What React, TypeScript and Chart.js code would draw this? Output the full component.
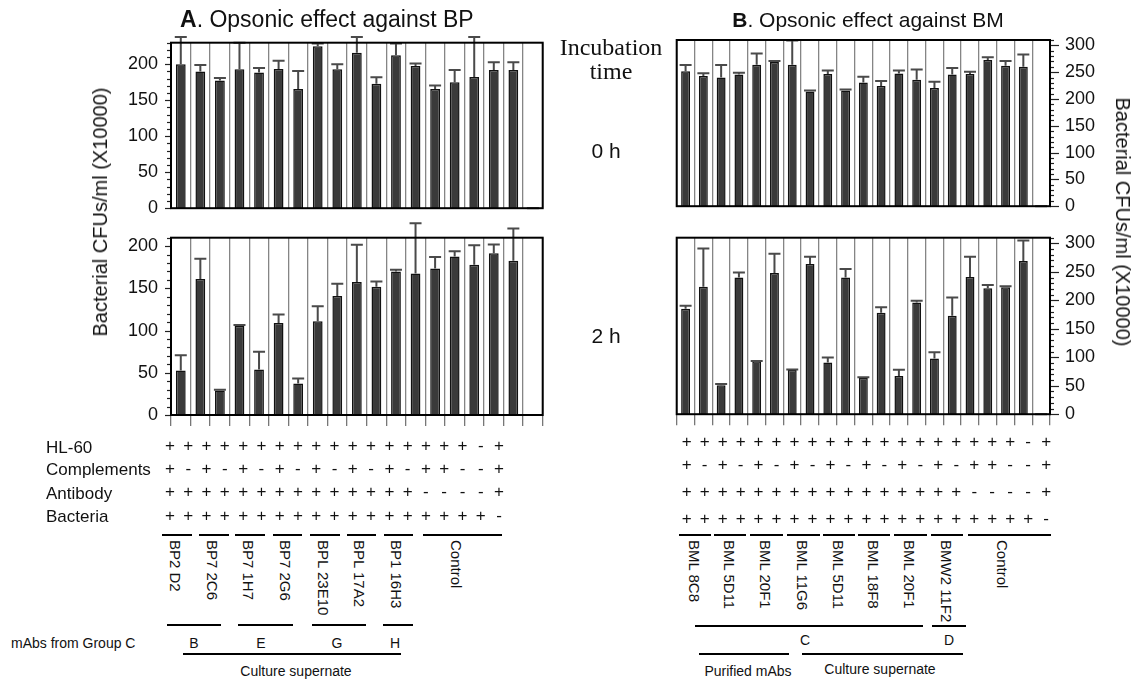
import React, { useEffect, useRef } from 'react';
import { Chart, registerables } from 'chart.js';

Chart.register(...registerables);

const SANS = '"Liberation Sans", Arial, sans-serif';
const SERIF = '"Liberation Serif", "Times New Roman", serif';

// ---------- Data ----------
const catsA = [
  'BP2 D2 C+', 'BP2 D2 C-', 'BP7 2C6 C+', 'BP7 2C6 C-', 'BP7 1H7 C+', 'BP7 1H7 C-',
  'BP7 2G6 C+', 'BP7 2G6 C-', 'BPL 23E10 C+', 'BPL 23E10 C-', 'BPL 17A2 C+', 'BPL 17A2 C-',
  'BP1 16H3 C+', 'BP1 16H3 C-', 'Control 1', 'Control 2', 'Control 3', 'Control 4', 'Control 5',
];
const a0h = [200, 190, 177.5, 193, 188.5, 193.5, 165.5, 225, 193, 216, 173, 212.5, 197.5, 165.5, 175, 182.5, 192, 192, 0];
const a0hErr = [238, 199, 181, 230, 195, 205, 190.5, 229, 200, 238, 182, 229, 201, 170.5, 192, 238, 203, 203, 0];
const a2h = [52.8, 161, 29, 105.5, 54, 109, 37.4, 111, 141, 157.5, 152, 170, 167.7, 173.6, 187.8, 178, 191.7, 182.7, 0];
const a2hErr = [70.9, 185, 30, 106.7, 74.8, 119, 43.3, 128.7, 155.5, 201.6, 158, 172, 227, 187, 194, 201, 202, 221, 0];

const catsB = [
  'BML 8C8 C+', 'BML 8C8 C-', 'BML 5D11 C+', 'BML 5D11 C-', 'BML 20F1 C+', 'BML 20F1 C-',
  'BML 11G6 C+', 'BML 11G6 C-', 'BML 5D11s C+', 'BML 5D11s C-', 'BML 18F8 C+', 'BML 18F8 C-',
  'BML 20F1s C+', 'BML 20F1s C-', 'BMW2 11F2 C+', 'BMW2 11F2 C-',
  'Control 1', 'Control 2', 'Control 3', 'Control 4', 'Control 5',
];
const b0h = [251.7, 243, 240, 245.5, 264, 269, 264, 214, 246.6, 216, 230.7, 224.4, 247.7, 235.8, 220.5, 245.5, 246.6, 272.7, 262, 260, 0];
const b0hErr = [263.6, 248, 263.6, 249, 285, 271, 309, 216, 253, 217.6, 241.5, 233.5, 253, 255, 232, 258, 251, 278, 271, 283, 0];
const b2h = [185, 224, 51, 240, 93, 248, 78, 264, 91, 240, 64, 178, 67, 196, 98, 173, 241, 221, 223, 269, 0];
const b2hErr = [190.6, 291, 53, 249, 93.6, 282, 78.4, 276.6, 99.4, 255, 65, 188, 78, 199.4, 109, 205, 276.6, 227, 224.6, 305, 0];

const rowLabels = ['HL-60', 'Complements', 'Antibody', 'Bacteria'];
const hl60A = '+ + + + + + + + + + + + + + + + + - +'.split(' ');
const compA = '+ - + - + - + - + - + - + - + + - - +'.split(' ');
const abA = '+ + + + + + + + + + + + + + - - - - +'.split(' ');
const bactA = '+ + + + + + + + + + + + + + + + + + -'.split(' ');
const hl60B = '+ + + + + + + + + + + + + + + + + + + - +'.split(' ');
const compB = '+ - + - + - + - + - + - + - + - + + - - +'.split(' ');
const abB = '+ + + + + + + + + + + + + + + + - - - - +'.split(' ');
const bactB = '+ + + + + + + + + + + + + + + + + + + + -'.split(' ');

const groupsA = ['BP2 D2', 'BP7 2C6', 'BP7 1H7', 'BP7 2G6', 'BPL 23E10', 'BPL 17A2', 'BP1 16H3', 'Control'];
const groupsB = ['BML 8C8', 'BML 5D11', 'BML 20F1', 'BML 11G6', 'BML 5D11', 'BML 18F8', 'BML 20F1', 'BMW2 11F2', 'Control'];

// ---------- Layout ----------
type Box = { left: number; top: number; width: number; height: number };
type Area = { l: number; t: number; r: number; b: number };

const errorBars = (errs: number[]) => ({
  id: 'errorBars',
  afterDatasetsDraw(chart: any) {
    const ctx = chart.ctx;
    const meta = chart.getDatasetMeta(0);
    const ys = chart.scales.y;
    ctx.save();
    ctx.strokeStyle = '#4a4a4a';
    ctx.lineWidth = 2;
    meta.data.forEach((bar: any, i: number) => {
      const x = bar.x;
      const yb = bar.y;
      const yt = ys.getPixelForValue(errs[i]);
      ctx.beginPath();
      ctx.moveTo(x, yb);
      ctx.lineTo(x, yt);
      ctx.moveTo(x - 6, yt);
      ctx.lineTo(x + 6, yt);
      ctx.stroke();
    });
    ctx.restore();
  },
});

const frameAndTicks = (side: 'left' | 'right', majorLen: number) => ({
  id: 'frameAndTicks',
  afterDraw(chart: any) {
    const ctx = chart.ctx;
    const a = chart.chartArea;
    const ys = chart.scales.y;
    ctx.save();
    ctx.strokeStyle = '#222';
    ctx.lineWidth = 1.2;
    ys.ticks.forEach((t: any) => {
      const y = Math.round(ys.getPixelForValue(t.value)) + 0.5;
      const len = t.value % 50 === 0 ? majorLen : 4;
      ctx.beginPath();
      if (side === 'left') {
        ctx.moveTo(a.left, y);
        ctx.lineTo(a.left - len, y);
      } else {
        ctx.moveTo(a.right, y);
        ctx.lineTo(a.right + len, y);
      }
      ctx.stroke();
    });
    ctx.strokeStyle = '#000';
    ctx.lineWidth = 2;
    ctx.strokeRect(a.left, a.top, a.right - a.left, a.bottom - a.top);
    ctx.restore();
  },
});

function BarPanel(p: {
  box: Box; area: Area; side: 'left' | 'right'; labels: string[]; values: number[];
  errors: number[]; yMax: number; bottomTicks: boolean; majorLen: number; labelPad: number;
}) {
  const ref = useRef<HTMLCanvasElement>(null);
  useEffect(() => {
    const c = ref.current!;
    const { box, area } = p;
    const xH = p.bottomTicks ? 12 : 1;
    const padTop = area.t - box.top;
    const padBottom = box.top + box.height - area.b - xH;
    let padLeft = 0, padRight = 0, yW = 0;
    if (p.side === 'left') {
      yW = area.l - box.left;
      padRight = box.left + box.width - area.r;
    } else {
      yW = box.left + box.width - area.r;
      padLeft = area.l - box.left;
    }
    const chart = new Chart(c, {
      type: 'bar',
      data: {
        labels: p.labels,
        datasets: [{
          data: p.values,
          backgroundColor: '#3a3a3a',
          borderColor: '#111',
          borderWidth: 1.5,
          barPercentage: 0.5,
          categoryPercentage: 1,
        }],
      },
      options: {
        animation: false,
        responsive: false,
        maintainAspectRatio: false,
        layout: { padding: { top: padTop, bottom: padBottom, left: padLeft, right: padRight } },
        plugins: { legend: { display: false }, tooltip: { enabled: false }, title: { display: false } },
        scales: {
          x: {
            offset: true,
            grid: {
              offset: true, color: '#858585', lineWidth: 1.3,
              drawTicks: p.bottomTicks, tickLength: 11, tickColor: '#777',
            },
            border: { display: false },
            ticks: { display: false },
            afterFit: (s: any) => { s.height = xH; },
          },
          y: {
            position: p.side,
            min: 0,
            max: p.yMax,
            grid: { display: false, drawTicks: false },
            border: { display: false },
            ticks: {
              stepSize: 10,
              autoSkip: false,
              padding: p.labelPad,
              color: '#111',
              font: { family: SANS, size: 18 },
              callback: (v: any) => (Number(v) % 50 === 0 ? String(v) : ''),
            },
            afterFit: (s: any) => { s.width = yW; },
          },
        },
      },
      plugins: [errorBars(p.errors), frameAndTicks(p.side, p.majorLen)],
    } as any);
    return () => chart.destroy();
  }, []);
  return (
    <canvas
      ref={ref}
      width={p.box.width}
      height={p.box.height}
      style={{ position: 'absolute', left: p.box.left, top: p.box.top, width: p.box.width, height: p.box.height }}
    />
  );
}

function T(props: {
  x: number; y: number; size?: number; align?: 'left' | 'center'; family?: string;
  rot?: number; vertical?: boolean; children: React.ReactNode; weight?: number;
}) {
  const { x, y, size = 17, align = 'center', family = SANS, rot = 0, vertical = false } = props;
  let transform = align === 'center' ? 'translate(-50%, -50%)' : 'translate(0, -50%)';
  if (rot) transform += ` rotate(${rot}deg)`;
  if (vertical) transform = 'translateX(-50%)';
  return (
    <div
      style={{
        position: 'absolute', left: x, top: y, transform, fontFamily: family, fontSize: size,
        lineHeight: 1, whiteSpace: 'nowrap', color: '#111', fontWeight: props.weight ?? 400,
        writingMode: vertical ? 'vertical-rl' : undefined,
      }}
    >
      {props.children}
    </div>
  );
}

function Line(props: { x1: number; x2: number; y: number; w?: number }) {
  const w = props.w ?? 2;
  return (
    <div style={{ position: 'absolute', left: props.x1, top: props.y - w / 2, width: props.x2 - props.x1, height: w, background: '#000' }} />
  );
}

const tableA = { x0: 170, step: 18.28, rows: [445, 468, 491, 515] };
const tableB = { x0: 686.7, step: 17.97, rows: [441, 464, 491, 518] };
const segA: [number, number][] = [[162, 192], [199, 229], [235, 265], [273, 302], [310, 340], [347, 376], [384, 413], [423, 502]];
const segB: [number, number][] = [[679, 711], [714, 746], [750, 783], [787, 820], [823, 855], [858, 890], [894, 927], [931, 963], [968, 1051]];

export default function App() {
  const rowsA = [hl60A, compA, abA, bactA];
  const rowsB = [hl60B, compB, abB, bactB];
  return (
    <div style={{ position: 'fixed', left: 0, top: 0, width: 1138, height: 681, background: '#fff', overflow: 'hidden' }}>
      <BarPanel box={{ left: 0, top: 0, width: 560, height: 232 }} area={{ l: 171, t: 42.7, r: 542.7, b: 222.7 }}
        side="left" labels={catsA} values={a0h} errors={a0hErr} yMax={230} bottomTicks={false} majorLen={6} labelPad={13} />
      <BarPanel box={{ left: 0, top: 200, width: 560, height: 240 }} area={{ l: 171, t: 237.7, r: 542.7, b: 415 }}
        side="left" labels={catsA} values={a2h} errors={a2hErr} yMax={210} bottomTicks={true} majorLen={6} labelPad={13} />
      <BarPanel box={{ left: 580, top: 0, width: 558, height: 232 }} area={{ l: 676.7, t: 40, r: 1050, b: 222.7 }}
        side="right" labels={catsB} values={b0h} errors={b0hErr} yMax={310} bottomTicks={false} majorLen={9} labelPad={15} />
      <BarPanel box={{ left: 580, top: 200, width: 558, height: 240 }} area={{ l: 676.7, t: 237.7, r: 1050, b: 415 }}
        side="right" labels={catsB} values={b2h} errors={b2hErr} yMax={310} bottomTicks={true} majorLen={9} labelPad={15} />

      <T x={180} y={19} size={23} align="left"><b>A</b>. Opsonic effect against BP</T>
      <T x={868} y={19} size={21}><b>B</b>. Opsonic effect against BM</T>
      <T x={611} y={47} size={24} family={SERIF}>Incubation</T>
      <T x={611} y={71} size={24} family={SERIF}>time</T>
      <T x={606} y={150} size={21}>0 h</T>
      <T x={606} y={335} size={21}>2 h</T>
      <T x={100} y={212} size={20} rot={-90}>Bacterial CFUs/ml (X10000)</T>
      <T x={1123} y={222} size={20} rot={90}>Bacterial CFUs/ml (X10000)</T>

      {rowLabels.map((r, i) => (
        <T key={r} x={46} y={[447, 469, 493, 516][i]} size={17} align="left">{r}</T>
      ))}
      {rowsA.map((row, ri) => row.map((s, i) => (
        <T key={`a${ri}-${i}`} x={tableA.x0 + i * tableA.step} y={tableA.rows[ri]} size={17}>{s}</T>
      )))}
      {rowsB.map((row, ri) => row.map((s, i) => (
        <T key={`b${ri}-${i}`} x={tableB.x0 + i * tableB.step} y={tableB.rows[ri]} size={17}>{s}</T>
      )))}

      {segA.map(([x1, x2], i) => <Line key={`sa${i}`} x1={x1} x2={x2} y={535} />)}
      {segB.map(([x1, x2], i) => <Line key={`sb${i}`} x1={x1} x2={x2} y={535} />)}
      {groupsA.map((g, i) => (
        <T key={`ga${i}`} x={g === 'Control' ? 456 : (segA[i][0] + segA[i][1]) / 2 - 2} y={540} size={15} vertical>{g}</T>
      ))}
      {groupsB.map((g, i) => (
        <T key={`gb${i}`} x={g === 'Control' ? 1002 : (segB[i][0] + segB[i][1]) / 2 - 1} y={540} size={15} vertical>{g}</T>
      ))}

      <T x={11} y={643} size={14} align="left">mAbs from Group C</T>
      <Line x1={167} x2={221} y={625} />
      <Line x1={238} x2={293} y={625} />
      <Line x1={312} x2={366} y={625} />
      <Line x1={383} x2={413} y={625} />
      <T x={194} y={643} size={14}>B</T>
      <T x={261} y={643} size={14}>E</T>
      <T x={337} y={643} size={14}>G</T>
      <T x={395} y={643} size={14}>H</T>
      <Line x1={183} x2={401} y={654} />
      <T x={296} y={671} size={14}>Culture supernate</T>

      <Line x1={695} x2={923} y={626} />
      <Line x1={932} x2={966} y={626} />
      <T x={805} y={640} size={14}>C</T>
      <T x={949} y={640} size={14}>D</T>
      <Line x1={699} x2={789} y={654} />
      <Line x1={802} x2={963} y={654} />
      <T x={748} y={671} size={14}>Purified mAbs</T>
      <T x={880} y={669} size={14}>Culture supernate</T>
    </div>
  );
}
